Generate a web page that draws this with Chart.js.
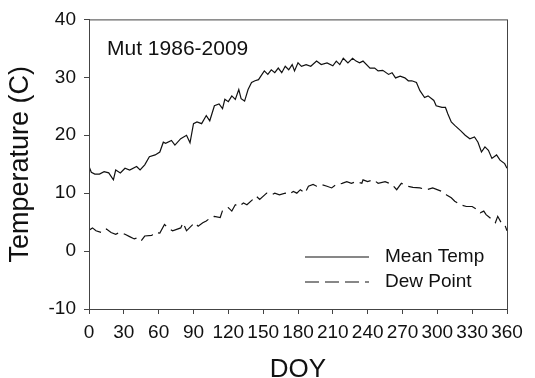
<!DOCTYPE html>
<html lang="en">
<head>
    <meta charset="UTF-8">
    <title>Mut 1986-2009</title>
    <script src="https://cdn.jsdelivr.net/npm/chart.js"></script>
    <style>
        body { margin: 0; background: #fff; }
        canvas { display: block; }
    </style>
</head>
<body>
    <canvas id="chart" width="535" height="378"></canvas>

    <script>
        // values
        const meanDays = [0, 2, 5, 9, 13, 17, 21, 23, 27, 31, 35, 41, 44, 48, 52, 57, 61, 64, 66, 71, 74, 79, 84, 87,
            90, 93, 97, 101, 104, 108, 112, 115, 117, 120, 123, 126, 129, 131, 134, 137, 140, 143, 146, 148, 151, 154,
            157, 160, 163, 166, 169, 172, 175, 177, 180, 183, 187, 191, 196, 200, 205, 210, 213, 216, 219, 223, 227,
            230, 233, 236, 242, 246, 249, 253, 258, 261, 264, 268, 272, 275, 278, 282, 285, 289, 292, 297, 299, 304,
            307, 309, 312, 315, 320, 324, 328, 332, 335, 338, 341, 344, 347, 351, 354, 358, 360];
        const meanTemp = [14.6, 13.6, 13.3, 13.3, 13.7, 13.5, 12.3, 14.0, 13.5, 14.3, 14.0, 14.6, 14.0, 14.9, 16.3, 16.6,
            17.1, 18.8, 18.6, 19.1, 18.3, 19.4, 20.0, 18.7, 22.0, 22.3, 22.0, 23.4, 22.5, 25.1, 25.4, 24.6, 26.2, 25.8,
            26.8, 26.2, 27.9, 26.3, 25.9, 27.9, 29.1, 29.4, 29.6, 30.2, 31.1, 30.5, 31.3, 30.8, 31.6, 30.8, 31.9, 31.3,
            32.2, 31.1, 32.5, 31.9, 32.2, 31.9, 32.8, 32.2, 32.5, 32.0, 32.8, 32.2, 33.3, 32.5, 33.3, 32.8, 32.5, 32.8,
            31.6, 31.6, 31.1, 31.2, 30.5, 30.8, 29.9, 30.2, 29.9, 29.4, 29.4, 29.1, 27.7, 26.5, 26.8, 26.0, 25.1, 24.8,
            24.8, 23.7, 22.3, 21.7, 20.8, 20.0, 19.4, 19.7, 18.8, 17.1, 18.0, 17.4, 16.0, 16.6, 15.7, 15.1, 14.3];

        const dewDays = [0, 3, 6, 11, 15, 19, 23, 26, 31, 35, 39, 42, 45, 48, 54, 57, 61, 65, 68, 72, 79, 81, 84, 88,
            91, 94, 98, 101, 105, 108, 113, 115, 120, 123, 126, 129, 133, 136, 141, 144, 147, 153, 157, 160, 164, 169,
            172, 176, 179, 182, 186, 189, 193, 196, 200, 205, 209, 213, 218, 222, 226, 230, 235, 236, 240, 245, 249,
            255, 261, 265, 269, 274, 279, 285, 291, 296, 304, 308, 312, 315, 320, 325, 330, 334, 337, 340, 342, 345,
            350, 352, 355, 358, 360];
        const dewPoint = [3.6, 4.0, 3.5, 3.2, 3.8, 3.2, 2.9, 3.2, 2.9, 2.5, 2.1, 2.3, 1.8, 2.6, 2.7, 3.2, 3.1, 4.6, 4.0,
            3.5, 4.0, 4.9, 3.5, 4.3, 4.9, 4.3, 4.9, 5.2, 5.8, 6.0, 5.8, 7.0, 7.5, 6.9, 8.0, 7.7, 8.3, 8.0, 8.9, 9.5, 8.9,
            10.0, 9.7, 10.0, 9.7, 10.0, 9.8, 10.3, 10.0, 10.6, 10.0, 11.2, 11.5, 11.2, 11.5, 11.2, 10.9, 11.5, 11.7,
            12.0, 11.7, 12.0, 11.7, 12.3, 12.0, 12.3, 11.7, 12.0, 11.5, 10.6, 11.7, 11.2, 11.0, 10.9, 10.6, 10.9, 10.3,
            9.7, 9.2, 8.6, 8.0, 7.7, 7.7, 7.2, 6.6, 6.9, 6.3, 5.8, 4.9, 6.0, 4.9, 4.6, 3.5];

        const seriesNames = ["Mean Temp", "Dew Point"];
        const stationLabel = "Mut 1986-2009";

        const FONT = "'Liberation Sans', Arial, sans-serif";
        const DASH = [14, 6];

        const toPoints = (xs, ys) => xs.map((x, i) => ({ x: x, y: ys[i] }));

        // box around the plot + text + legend inside the plot area
        const extras = {
            id: "extras",
            afterDraw(chart) {
                const ctx = chart.ctx;
                const a = chart.chartArea;
                ctx.save();
                ctx.strokeStyle = "#444";
                ctx.lineWidth = 1;
                ctx.strokeRect(a.left + 0.5, a.top + 0.5, a.right - a.left, a.bottom - a.top);

                ctx.fillStyle = "#111";
                ctx.font = "21px " + FONT;
                ctx.textBaseline = "middle";
                ctx.fillText(stationLabel, a.left + 18, a.top + 30);

                ctx.font = "19px " + FONT;
                const x0 = a.right - 202;
                const rows = [a.bottom - 52, a.bottom - 27];
                chart.data.datasets.forEach((ds, i) => {
                    ctx.beginPath();
                    ctx.strokeStyle = "#111";
                    ctx.lineWidth = 1.2;
                    ctx.setLineDash(ds.borderDash || []);
                    ctx.moveTo(x0, rows[i]);
                    ctx.lineTo(x0 + 64, rows[i]);
                    ctx.stroke();
                    ctx.setLineDash([]);
                    ctx.fillText(ds.label, x0 + 80, rows[i]);
                });
                ctx.restore();
            }
        };

        new Chart(document.getElementById("chart"), {
            type: "line",
            data: {
                datasets: [
                    {
                        label: seriesNames[0],
                        data: toPoints(meanDays, meanTemp),
                        borderColor: "#111",
                        borderWidth: 1.2,
                        pointRadius: 0,
                        tension: 0
                    },
                    {
                        label: seriesNames[1],
                        data: toPoints(dewDays, dewPoint),
                        borderColor: "#111",
                        borderWidth: 1.2,
                        borderDash: DASH,
                        pointRadius: 0,
                        tension: 0
                    }
                ]
            },
            options: {
                responsive: false,
                animation: false,
                layout: { padding: { top: 16, right: 28, left: 0, bottom: 0 } },
                plugins: { legend: { display: false }, tooltip: { enabled: false } },
                scales: {
                    x: {
                        type: "linear",
                        min: 0,
                        max: 360,
                        afterFit(scale) { scale.height = 69; },
                        ticks: { stepSize: 30, color: "#111", padding: 7, maxRotation: 0,
                                 font: { family: FONT, size: 19 } },
                        grid: { drawOnChartArea: false, tickLength: 5, color: "#444" },
                        border: { color: "#444" },
                        title: { display: true, text: "DOY", color: "#111", padding: { top: 0, bottom: -7 },
                                 font: { family: FONT, size: 26 } }
                    },
                    y: {
                        min: -10,
                        max: 40,
                        afterFit(scale) { scale.width = 89; },
                        ticks: { stepSize: 10, color: "#111", padding: 8,
                                 font: { family: FONT, size: 19 } },
                        grid: { drawOnChartArea: false, tickLength: 5, color: "#444" },
                        border: { color: "#444" },
                        title: { display: true, text: "Temperature (C)", color: "#111", padding: 4,
                                 font: { family: FONT, size: 27 } }
                    }
                }
            },
            plugins: [extras]
        });
    </script>
</body>
</html>
